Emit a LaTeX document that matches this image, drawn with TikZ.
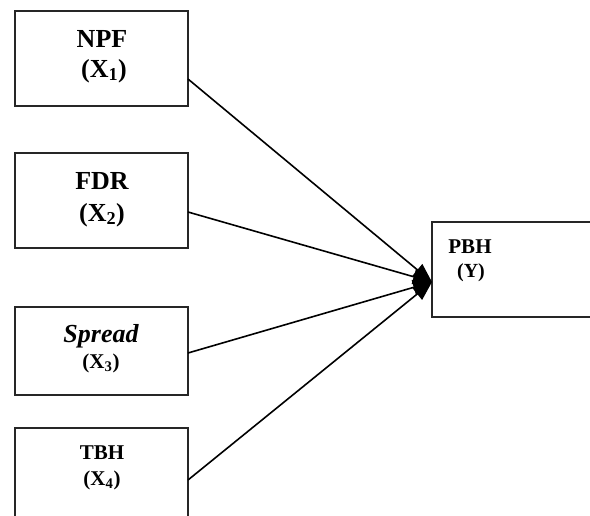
\documentclass[tikz,border=0pt]{standalone}
\usepackage{fontspec}
\setmainfont{Liberation Serif}
\usetikzlibrary{arrows.meta}
\tikzset{
  varbox/.style={draw=black!85, line width=1.6pt, fill=none, inner sep=0pt},
  lbl/.style={anchor=base, inner sep=0pt, font=\bfseries},
  link/.style={line width=1.6pt, -{Triangle[length=19pt,width=15pt]}, shorten >=0pt}
}
\begin{document}
\begin{tikzpicture}[x=1pt,y=-1pt]
\useasboundingbox (0,0) rectangle (590,515);
\clip (0,0) rectangle (590,515);
% boxes
\draw[varbox] (15,11) rectangle (188,106);
\coordinate (b1r) at (188,79);
\draw[varbox] (15,153) rectangle (188,248);
\coordinate (b2r) at (188,212);
\draw[varbox] (15,307) rectangle (188,395);
\coordinate (b3r) at (188,353);
\draw[varbox] (15,530) -- (15,428) -- (188,428) -- (188,530);
\coordinate (b4r) at (188,480);
\draw[varbox] (600,222) -- (432,222) -- (432,317) -- (600,317);
\coordinate (yl) at (432,282);
% texts
\node[lbl, font=\bfseries\fontsize{26}{28}\selectfont] (t1a) at (102,47) {NPF};
\node[lbl, font=\bfseries\fontsize{26}{28}\selectfont] (t1b) at (104,77) {(X\textsubscript{1})};
\node[lbl, font=\bfseries\fontsize{26}{28}\selectfont] (t2a) at (102,189) {FDR};
\node[lbl, font=\bfseries\fontsize{26}{28}\selectfont] (t2b) at (102,221) {(X\textsubscript{2})};
\node[lbl, font=\bfseries\itshape\fontsize{26}{28}\selectfont] (t3a) at (101,342) {Spread};
\node[lbl, font=\bfseries\fontsize{21}{23}\selectfont] (t3b) at (101,368) {(X\textsubscript{3})};
\node[lbl, font=\bfseries\fontsize{21}{23}\selectfont] (t4a) at (102,459) {TBH};
\node[lbl, font=\bfseries\fontsize{21}{23}\selectfont] (t4b) at (102,485) {(X\textsubscript{4})};
\node[lbl, font=\bfseries\fontsize{21}{23}\selectfont] (tya) at (470,253) {PBH};
\node[lbl, font=\bfseries\fontsize{20}{22}\selectfont] (tyb) at (471,277) {(Y)};
% connectors
\draw[link] (b1r) -- (yl);
\draw[link] (b2r) -- (yl);
\draw[link] (b3r) -- (yl);
\draw[link] (b4r) -- (yl);
\end{tikzpicture}
\end{document}
